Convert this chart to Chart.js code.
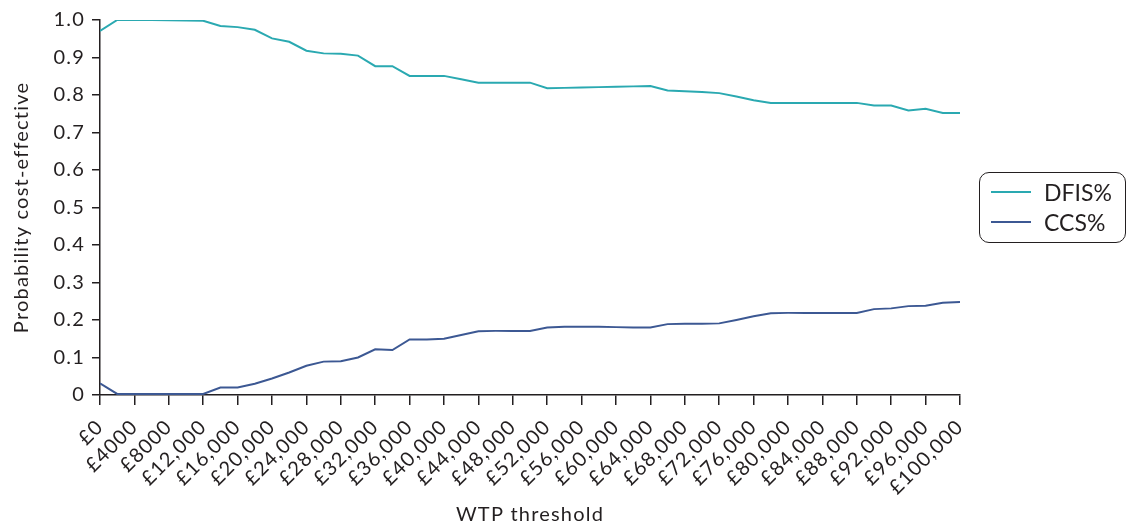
<!DOCTYPE html>
<html>
<head>
<meta charset="utf-8">
<script src="https://cdn.jsdelivr.net/npm/chart.js@4/dist/chart.umd.min.js"></script>
<style>
  html, body { margin: 0; padding: 0; background: #fff; }
  #wrap { position: relative; width: 1129px; height: 528px; }
  #leyenda {
    position: absolute; left: 979px; top: 172px; width: 147px; height: 71px;
    border: 1.5px solid #231f20; border-radius: 10px; box-sizing: border-box;
    font-family: Lato, "Open Sans", sans-serif; font-size: 23px; color: #231f20;
    padding: 4px 0 0 11px;
  }
  .item { display: flex; align-items: center; height: 30px; }
  .muestra { width: 40px; height: 2px; margin-right: 13px; }
</style>
</head>
<body>
<div id="wrap">
  <canvas id="grafico1" width="1129" height="528"></canvas>
  <div id="leyenda"></div>
</div>
<script>
// umbrales WTP (£)
const umbrales = [0, 2000, 4000, 6000, 8000, 10000, 12000, 14000, 16000, 18000,
  20000, 22000, 24000, 26000, 28000, 30000, 32000, 34000, 36000, 38000,
  40000, 42000, 44000, 46000, 48000, 50000, 52000, 54000, 56000, 58000,
  60000, 62000, 64000, 66000, 68000, 70000, 72000, 74000, 76000, 78000,
  80000, 82000, 84000, 86000, 88000, 90000, 92000, 94000, 96000, 98000, 100000];

const dfis = [0.971, 1.000, 1.000, 1.000, 0.999, 0.999, 0.998, 0.984, 0.981, 0.974,
  0.951, 0.942, 0.918, 0.911, 0.910, 0.905, 0.877, 0.877, 0.851, 0.851,
  0.851, 0.842, 0.833, 0.833, 0.833, 0.833, 0.818, 0.819, 0.820, 0.821,
  0.822, 0.823, 0.824, 0.812, 0.810, 0.808, 0.805, 0.796, 0.786, 0.779,
  0.779, 0.779, 0.779, 0.779, 0.779, 0.772, 0.772, 0.759, 0.763, 0.752, 0.752];

const ccs = [0.031, 0.003, 0.003, 0.003, 0.003, 0.003, 0.003, 0.020, 0.020, 0.030,
  0.044, 0.060, 0.078, 0.089, 0.090, 0.100, 0.122, 0.120, 0.148, 0.148,
  0.150, 0.160, 0.170, 0.171, 0.171, 0.171, 0.180, 0.182, 0.182, 0.182,
  0.181, 0.180, 0.180, 0.189, 0.190, 0.190, 0.191, 0.200, 0.210, 0.218,
  0.219, 0.219, 0.219, 0.219, 0.219, 0.229, 0.231, 0.237, 0.238, 0.246, 0.248];

const etiquetasX = ['£0', '£4000', '£8000', '£12,000', '£16,000', '£20,000', '£24,000',
  '£28,000', '£32,000', '£36,000', '£40,000', '£44,000', '£48,000', '£52,000',
  '£56,000', '£60,000', '£64,000', '£68,000', '£72,000', '£76,000', '£80,000',
  '£84,000', '£88,000', '£92,000', '£96,000', '£100,000'];

const etiquetasY = ['0', '0.1', '0.2', '0.3', '0.4', '0.5', '0.6', '0.7', '0.8', '0.9', '1.0'];

const series = [
  { label: 'DFIS%', data: dfis, color: '#2aa9b1' },
  { label: 'CCS%', data: ccs, color: '#3c5893' }
];

const fuente = 'Lato, "Open Sans", sans-serif';
const tinta = '#231f20';

// la fuente original es mas ancha que Lato: un poco de espaciado
const espaciado = {
  id: 'espaciado',
  beforeDraw(chart) {
    chart.ctx.letterSpacing = '1.2px';
  }
};

const grafico1 = document.getElementById('grafico1').getContext('2d');

window.graficaCurva = new Chart(grafico1, {
  type: 'line',
  data: {
    datasets: series.map(s => ({
      label: s.label,
      data: umbrales.map((u, i) => ({ x: u, y: s.data[i] })),
      borderColor: s.color,
      backgroundColor: s.color,
      borderWidth: 2,
      pointRadius: 0,
      tension: 0
    }))
  },
  plugins: [espaciado],
  options: {
    responsive: false,
    animation: false,
    layout: { padding: { left: 0, right: 169, top: 20, bottom: 0 } },
    plugins: {
      legend: { display: false },
      tooltip: { enabled: false }
    },
    scales: {
      x: {
        type: 'linear',
        min: 0,
        max: 100000,
        afterFit: (scale) => { scale.height = 133; },
        border: { color: tinta, width: 1.5 },
        grid: { drawOnChartArea: false, color: tinta, lineWidth: 1.5, tickLength: 10 },
        ticks: {
          stepSize: 4000,
          autoSkip: false,
          minRotation: 45,
          maxRotation: 45,
          color: tinta,
          padding: 10,
          font: { family: fuente, size: 20 },
          callback: (v) => etiquetasX[Math.round(v / 4000)]
        },
        title: {
          display: true,
          text: 'WTP threshold',
          color: tinta,
          padding: { top: 0, bottom: 1 },
          font: { family: fuente, size: 20 }
        }
      },
      y: {
        min: 0,
        max: 1,
        afterFit: (scale) => { scale.width = 100; },
        border: { color: tinta, width: 1.5 },
        grid: { drawOnChartArea: false, color: tinta, lineWidth: 1.5, tickLength: 8 },
        ticks: {
          stepSize: 0.1,
          color: tinta,
          padding: 7,
          font: { family: fuente, size: 20 },
          callback: (v) => etiquetasY[Math.round(v * 10)]
        },
        title: {
          display: true,
          text: 'Probability cost-effective',
          color: tinta,
          padding: { top: 10, bottom: 0 },
          font: { family: fuente, size: 20 }
        }
      }
    }
  }
});

// leyenda en HTML
const leyenda = document.getElementById('leyenda');
series.forEach(s => {
  const item = document.createElement('div');
  item.className = 'item';
  item.innerHTML = '<span class="muestra" style="background:' + s.color + '"></span>' + s.label;
  leyenda.appendChild(item);
});
</script>
</body>
</html>
